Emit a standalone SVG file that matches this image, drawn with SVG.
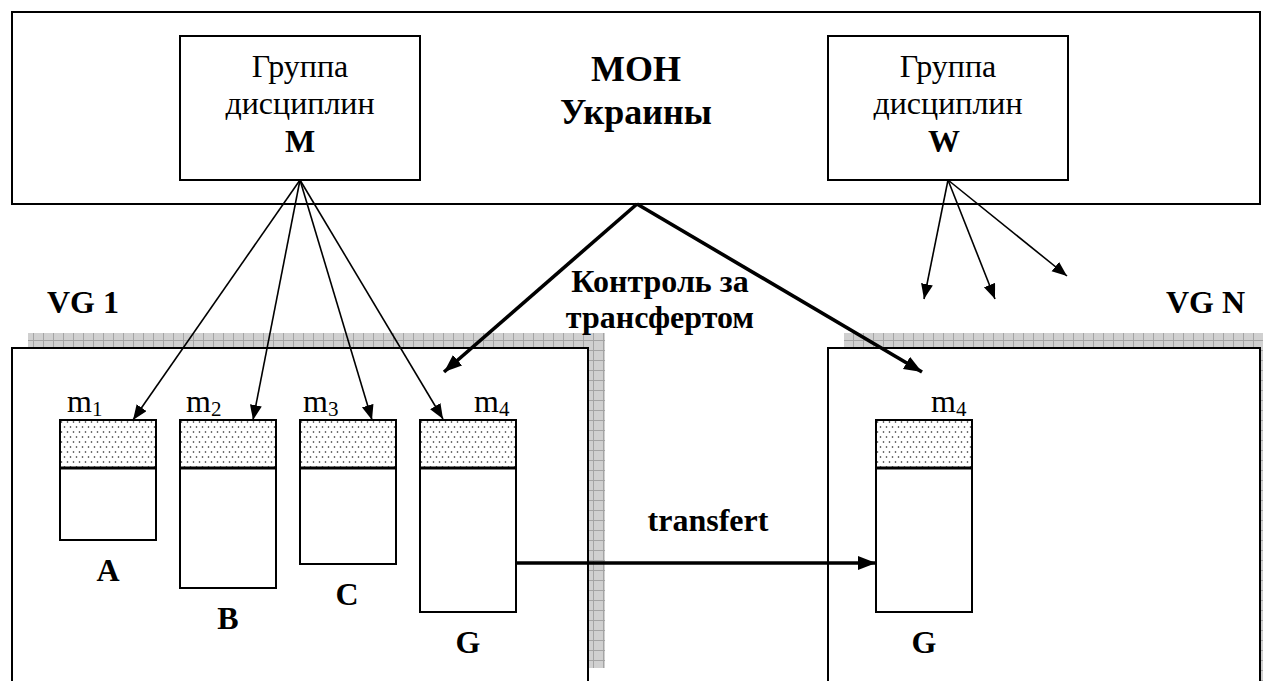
<svg xmlns="http://www.w3.org/2000/svg" width="1263" height="681" viewBox="0 0 1263 681">
<style>
.box{fill:#fff;stroke:#000;stroke-width:2}
.bar{fill:#fff;stroke:#000;stroke-width:2}
.dots{fill:url(#dots);stroke:#000;stroke-width:2}
.div{stroke:#000;stroke-width:3}
.shadow{fill:url(#grid)}
.t{font-family:"Liberation Serif","Times New Roman",serif;fill:#000}
.reg{font-size:32px}
.b{font-size:32px;font-weight:bold}
.big{font-size:36px;font-weight:bold}
.thin{stroke:#000;stroke-width:1.6;fill:none;marker-end:url(#ah)}
.thick{stroke:#000;stroke-width:3.6;fill:none;marker-end:url(#ahb)}
</style>
<defs>
<pattern id="dots" width="6" height="10" patternUnits="userSpaceOnUse">
<rect width="6" height="10" fill="#fff"/>
<circle cx="1.5" cy="2" r="0.8" fill="#222"/>
<circle cx="4.5" cy="7" r="0.8" fill="#222"/>
</pattern>
<pattern id="grid" width="10" height="10" patternUnits="userSpaceOnUse" x="3" y="0">
<rect width="10" height="10" fill="#d0d0d0"/>
<path d="M0 0.5H10M0.5 0V10" stroke="#a4a4a4" stroke-width="1"/>
</pattern>
<marker id="ah" markerUnits="userSpaceOnUse" markerWidth="16" markerHeight="14" refX="15" refY="6" orient="auto">
<path d="M0 0L15 6L0 12z" fill="#000"/>
</marker>
<marker id="ahb" markerUnits="userSpaceOnUse" markerWidth="20" markerHeight="16" refX="18" refY="7" orient="auto">
<path d="M0 0L18 7L0 14z" fill="#000"/>
</marker>
</defs>

<g id="mon">
<rect class="box" x="12" y="12" width="1248" height="192"/>
<text class="t big" x="636" y="81" text-anchor="middle">МОН</text>
<text class="t big" x="636" y="124" text-anchor="middle">Украины</text>
</g>

<g id="group-m">
<rect class="box" x="180" y="36" width="240" height="144"/>
<text class="t reg" x="300" y="77" text-anchor="middle">Группа</text>
<text class="t reg" x="300" y="114" text-anchor="middle">дисциплин</text>
<text class="t b" x="300" y="152" text-anchor="middle">М</text>
</g>

<g id="group-w">
<rect class="box" x="828" y="36" width="240" height="144"/>
<text class="t reg" x="948" y="77" text-anchor="middle">Группа</text>
<text class="t reg" x="948" y="114" text-anchor="middle">дисциплин</text>
<text class="t b" x="944" y="152" text-anchor="middle">W</text>
</g>

<g id="vg1">
<rect class="shadow" x="28" y="333" width="577" height="335"/>
<rect class="box" x="12" y="348" width="576" height="360"/>
<text class="t b" x="47" y="313">VG 1</text>
</g>

<g id="vgn">
<rect class="shadow" x="844" y="333" width="432" height="360"/>
<rect class="box" x="828" y="348" width="432" height="360"/>
<text class="t b" x="1245" y="313" text-anchor="end">VG N</text>
</g>

<g id="bar-a">
<rect class="bar" x="60" y="420" width="96" height="120"/>
<rect class="dots" x="60" y="420" width="96" height="48"/>
<line class="div" x1="60" y1="468" x2="156" y2="468"/>
<text class="t reg" x="67" y="412">m<tspan font-size="21" dy="4">1</tspan></text>
<text class="t b" x="108" y="581" text-anchor="middle">A</text>
</g>

<g id="bar-b">
<rect class="bar" x="180" y="420" width="96" height="168"/>
<rect class="dots" x="180" y="420" width="96" height="48"/>
<line class="div" x1="180" y1="468" x2="276" y2="468"/>
<text class="t reg" x="186" y="412">m<tspan font-size="21" dy="4">2</tspan></text>
<text class="t b" x="228" y="629" text-anchor="middle">B</text>
</g>

<g id="bar-c">
<rect class="bar" x="300" y="420" width="96" height="144"/>
<rect class="dots" x="300" y="420" width="96" height="48"/>
<line class="div" x1="300" y1="468" x2="396" y2="468"/>
<text class="t reg" x="303" y="412">m<tspan font-size="21" dy="4">3</tspan></text>
<text class="t b" x="347" y="605" text-anchor="middle">C</text>
</g>

<g id="bar-g1">
<rect class="bar" x="420" y="420" width="96" height="192"/>
<rect class="dots" x="420" y="420" width="96" height="48"/>
<line class="div" x1="420" y1="468" x2="516" y2="468"/>
<text class="t reg" x="474" y="412">m<tspan font-size="21" dy="4">4</tspan></text>
<text class="t b" x="468" y="653" text-anchor="middle">G</text>
</g>

<g id="bar-g2">
<rect class="bar" x="876" y="420" width="96" height="192"/>
<rect class="dots" x="876" y="420" width="96" height="48"/>
<line class="div" x1="876" y1="468" x2="972" y2="468"/>
<text class="t reg" x="931" y="412">m<tspan font-size="21" dy="4">4</tspan></text>
<text class="t b" x="924" y="653" text-anchor="middle">G</text>
</g>

<g id="connectors">
<line class="thin" x1="300" y1="180" x2="133" y2="420"/>
<line class="thin" x1="300" y1="180" x2="253" y2="420"/>
<line class="thin" x1="300" y1="180" x2="372" y2="420"/>
<line class="thin" x1="300" y1="180" x2="443" y2="419"/>
<line class="thin" x1="948" y1="180" x2="924" y2="299"/>
<line class="thin" x1="948" y1="180" x2="995" y2="299"/>
<line class="thin" x1="948" y1="180" x2="1067" y2="276"/>
<line class="thick" x1="637" y1="204" x2="444" y2="372"/>
<line class="thick" x1="637" y1="204" x2="922" y2="372"/>
<line class="thick" x1="516" y1="563" x2="876" y2="563"/>
<text class="t b" x="660" y="292" text-anchor="middle">Контроль за</text>
<text class="t b" x="660" y="328" text-anchor="middle">трансфертом</text>
<text class="t b" x="708" y="531" text-anchor="middle">transfert</text>
</g>
</svg>
